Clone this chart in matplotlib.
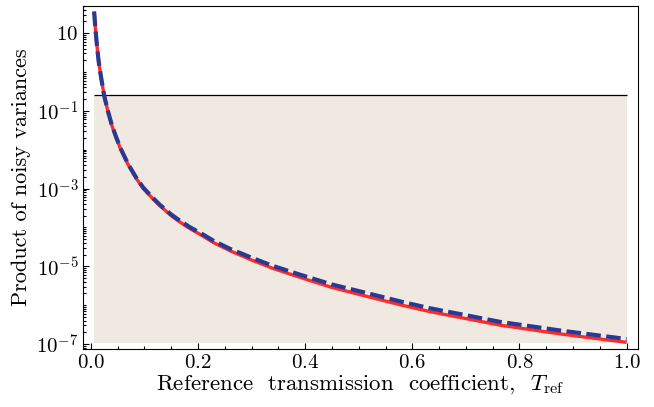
import numpy as np
import matplotlib
matplotlib.use("Agg")
import matplotlib.pyplot as plt
from matplotlib.ticker import LogLocator, MultipleLocator, NullFormatter

plt.rcParams['font.family'] = 'serif'
plt.rcParams['font.serif'] = ['cmr10']
plt.rcParams['mathtext.fontset'] = 'cm'
plt.rcParams['axes.formatter.use_mathtext'] = True
plt.rcParams['axes.unicode_minus'] = False

# values
T_ref = [0.0062, 0.0075, 0.0093, 0.012, 0.015, 0.019, 0.0248, 0.031, 0.0392, 0.047,
         0.055, 0.0701, 0.085, 0.098, 0.115, 0.129, 0.15, 0.167, 0.185, 0.204,
         0.23, 0.26, 0.30, 0.34, 0.39, 0.45, 0.521, 0.58, 0.633, 0.70,
         0.764, 0.82, 0.876, 0.94, 1.0]
red_vals = [36, 20, 10, 4.0, 1.7, 0.75, 0.25, 0.11, 0.042, 0.021,
            1.08e-2, 4.0e-3, 1.8e-3, 1.0e-3, 5.6e-4, 3.6e-4, 2.0e-4, 1.35e-4, 9.3e-5, 6.6e-5,
            4.0e-5, 2.5e-5, 1.45e-5, 8.8e-6, 5.2e-6, 2.85e-6, 1.6e-6, 1.0e-6, 6.8e-7, 4.5e-7,
            3.05e-7, 2.35e-7, 1.82e-7, 1.4e-7, 1.1e-7]
blue_vals = [36, 20, 10, 4.0, 1.7, 0.75, 0.25, 0.11, 0.043, 0.0216,
             1.12e-2, 4.15e-3, 1.88e-3, 1.05e-3, 5.9e-4, 3.8e-4, 2.15e-4, 1.46e-4, 1.01e-4, 7.25e-5,
             4.45e-5, 2.8e-5, 1.66e-5, 1.02e-5, 6.1e-6, 3.4e-6, 1.95e-6, 1.22e-6, 8.3e-7, 5.5e-7,
             3.7e-7, 2.87e-7, 2.22e-7, 1.71e-7, 1.34e-7]
bound = 0.25
shade_bottom = 1.05e-7

ytick_vals = [10, 1e-1, 1e-3, 1e-5, 1e-7]
ytick_labels = ['$10$', '$10^{-1}$', '$10^{-3}$', '$10^{-5}$', '$10^{-7}$']
xtick_vals = [0.0, 0.2, 0.4, 0.6, 0.8, 1.0]

fig = plt.figure(figsize=(6.54, 4.07), dpi=100)
ax = fig.add_axes([0.1274, 0.1418, 0.8476, 0.8435])

ax.fill_between([T_ref[0], T_ref[-1]], shade_bottom, bound, color='#f0e9e2', lw=0)
ax.hlines(bound, T_ref[0], T_ref[-1], color='black', lw=0.9)
ax.plot(T_ref, red_vals, color='#ff2b2b', lw=2.4, solid_capstyle='butt')
ax.plot(T_ref, blue_vals, color='#2a3a93', lw=3.0, ls=(0, (3.5, 1.3)))

ax.set_yscale('log')
ax.set_xlim(-0.014, 1.0205)
ax.set_ylim(7.3e-8, 50)

ax.set_yticks(ytick_vals, ytick_labels)
ax.yaxis.set_minor_locator(LogLocator(base=10, subs=np.arange(1, 10), numticks=100))
ax.yaxis.set_minor_formatter(NullFormatter())
ax.set_xticks(xtick_vals)
ax.xaxis.set_minor_locator(MultipleLocator(0.05))

ax.tick_params(which='both', direction='in', top=False, right=False, labelsize=15)
ax.tick_params(which='major', length=4.5, width=0.8)
ax.tick_params(which='minor', length=2.5, width=0.8)

ax.set_xlabel(r'Reference  transmission  coefficient,  $T_{\rm ref}$', fontsize=16.5, labelpad=1)
ax.set_ylabel('Product of noisy variances', fontsize=16, labelpad=4)

fig.savefig('out.png', dpi=100)
